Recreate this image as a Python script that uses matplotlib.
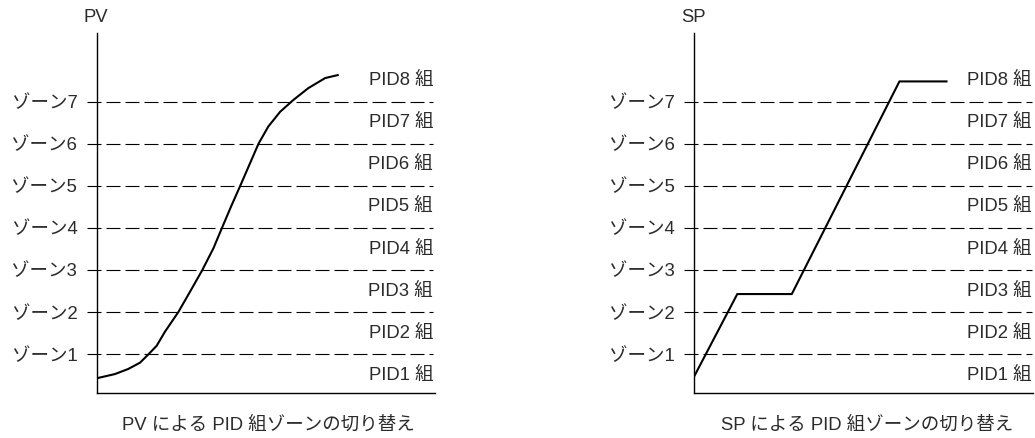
import matplotlib.pyplot as plt

plt.rcParams['font.family'] = ['Liberation Sans', 'Noto Sans CJK JP', 'DejaVu Sans']

zones = [1, 2, 3, 4, 5, 6, 7]
zone_labels = ['ゾーン1', 'ゾーン2', 'ゾーン3', 'ゾーン4', 'ゾーン5', 'ゾーン6', 'ゾーン7']
pid_labels = ['PID1 組', 'PID2 組', 'PID3 組', 'PID4 組', 'PID5 組', 'PID6 組', 'PID7 組', 'PID8 組']
pid_pos = [0.5, 1.5, 2.5, 3.5, 4.5, 5.5, 6.5, 7.5]

# PV curve
pv_x = [0, 5.4, 9.3, 12.8, 15.3, 17.7, 20.2, 24.1, 27.6, 31.2, 34.5, 37.0,
        39.7, 42.4, 45.1, 47.8, 50.7, 54.2, 58.1, 62.5, 67.5, 71.2]
pv_y = [0.43, 0.53, 0.65, 0.80, 1.0, 1.20, 1.54, 2.0, 2.49, 3.0, 3.52, 4.0,
        4.51, 5.0, 5.50, 6.0, 6.41, 6.76, 7.04, 7.32, 7.56, 7.63]

# SP ramp/soak
sp_x = [0, 12.7, 28.8, 60.6, 74.5]
sp_y = [0.48, 2.43, 2.43, 7.48, 7.48]

W, H = 1035, 438
TXT = '#2b2b2b'
FS = 13.3

fig = plt.figure(figsize=(W / 100, H / 100), dpi=100)


def panel(left_px, xs, ys, name, caption, line_end):
    ax = fig.add_axes([left_px / W, (H - 393) / H, 338.5 / W, 360 / H])
    ax.set_xlim(0, 100)
    ax.set_ylim(0.08, 8.63)
    for s in ['top', 'right']:
        ax.spines[s].set_visible(False)
    ax.spines['left'].set_linewidth(1.0)
    ax.spines['bottom'].set_linewidth(1.0)
    ax.set_xticks([])
    ax.set_yticks(zones)
    ax.set_yticklabels(zone_labels, color=TXT, fontsize=FS)
    ax.tick_params(axis='y', length=0, pad=14)

    ax.hlines(zones, -2.96, line_end, colors='black', linewidth=0.8,
              linestyles=(0, (12.6, 4.5)), clip_on=False)
    for lab, y in zip(pid_labels, pid_pos):
        ax.text(line_end, y, lab, ha='right', va='center', color=TXT, fontsize=FS)

    ax.plot(xs, ys, color='black', linewidth=1.5, solid_joinstyle='round')

    fig.text((left_px - 0.5) / W, 1 - 17 / H, name, ha='center', va='center', color=TXT, fontsize=FS)
    fig.text((left_px + caption[1]) / W, 1 - 425 / H, caption[0], ha='center', va='center',
             color=TXT, fontsize=FS)
    return ax


panel(96.7, pv_x, pv_y, 'PV', ('PV による PID 組ゾーンの切り替え', 171.6), 99.4)
panel(694.3, sp_x, sp_y, 'SP', ('SP による PID 組ゾーンの切り替え', 172.4), 99.7)

fig.savefig('out.png', dpi=100)
